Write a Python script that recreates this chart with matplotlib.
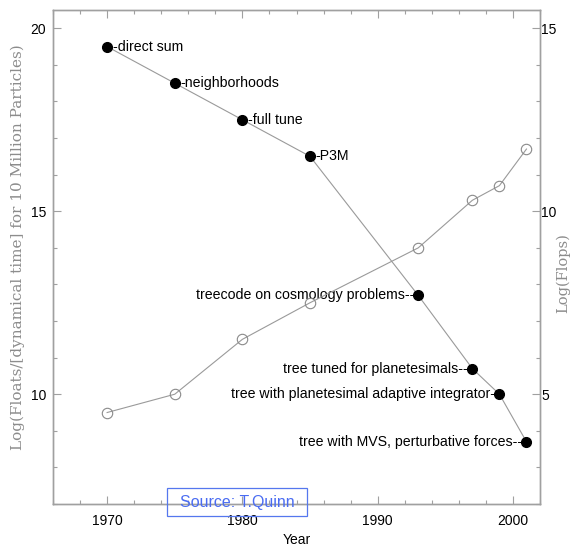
import matplotlib
matplotlib.use('Agg')
from matplotlib import pyplot
from matplotlib.patches import Rectangle
from matplotlib.ticker import MultipleLocator

# filled points: Log(Floats/[dynamical time]) for 10 million particles
algo_years=[1970,1975,1980,1985,1993,1997,1999,2001]
algo_logfloats=[19.5,18.5,17.5,16.5,12.7,10.7,10.0,8.7]
algo_labels=['-direct sum','-neighborhoods','-full tune','-P3M',
             'treecode on cosmology problems--','tree tuned for planetesimals--',
             'tree with planetesimal adaptive integrator-','tree with MVS, perturbative forces--']
# labels left of the point for the later entries
algo_side=['r','r','r','r','l','l','l','l']

# open points: Log(Flops) of the hardware
hw_years=[1970,1975,1980,1985,1993,1997,1999,2001]
hw_logflops=[4.5,5.0,6.5,7.5,9.0,10.3,10.7,11.7]

gray='#a0a0a0'
linegray='#9a9a9a'
pyplot.rcParams['font.family']=['Liberation Sans','DejaVu Sans']
pyplot.rcParams['font.size']=10

fig=pyplot.figure(figsize=(5.71,5.47),dpi=100)
ax=fig.add_axes([53/571,43/547,487/571,494/547])
ax2=ax.twinx()

ax.plot(algo_years,algo_logfloats,'-',color=linegray,lw=0.8,zorder=2)
ax.plot(algo_years,algo_logfloats,'o',color='black',ms=7,zorder=3)
ax2.plot(hw_years,hw_logflops,'-o',color=linegray,lw=0.8,ms=7.5,mfc='none',mec='#8a8a8a',mew=0.8)

for x,y,s,side in zip(algo_years,algo_logfloats,algo_labels,algo_side):
    if side=='r':
        ax.annotate(s,(x,y),xytext=(4,0),textcoords='offset points',ha='left',va='center',fontsize=10.2)
    else:
        ax.annotate(s,(x,y),xytext=(-3,0),textcoords='offset points',ha='right',va='center',fontsize=10.2)

ax.set_xlim(1966,2002)
ax.set_ylim(7,20.5)
ax2.set_ylim(2,15.5)

ax.xaxis.set_major_locator(MultipleLocator(10))
ax.xaxis.set_minor_locator(MultipleLocator(2))
for a in (ax,ax2):
    a.yaxis.set_major_locator(MultipleLocator(5))
    a.yaxis.set_minor_locator(MultipleLocator(1))
    for sp in a.spines.values():
        sp.set_color(gray)
        sp.set_linewidth(1.0)

ax.tick_params(axis='x',which='both',direction='in',top=True,color=gray,pad=7)
ax.tick_params(axis='y',which='both',direction='in',right=False,color=gray,pad=5)
ax2.tick_params(axis='y',which='both',direction='in',color=gray,pad=1)
for a in (ax,ax2):
    a.tick_params(which='major',length=6,width=0.8)
    a.tick_params(which='minor',length=3,width=0.8)

ax.set_xlabel('Year',fontsize=10,labelpad=4)
fig.text(18/571,1-247/547,'Log(Floats/[dynamical time] for 10 Million Particles)',rotation=90,
         ha='center',va='center',color='#8c8c8c',family='DejaVu Serif',fontsize=11)
fig.text(563/571,1-273/547,'Log(Flops)',rotation=90,ha='center',va='center',
         color='#8c8c8c',family='DejaVu Serif',fontsize=10.5)

fig.text(237/571,1-502/547,'Source: T.Quinn',ha='center',va='center',color='#4a6cf2',fontsize=11.5,zorder=10)
fig.patches.append(Rectangle((167/571,1-516/547),140/571,28/547,transform=fig.transFigure,
                             fill=False,ec='#5577ee',lw=0.9,zorder=10))

pyplot.savefig('out.png')
pyplot.close()
